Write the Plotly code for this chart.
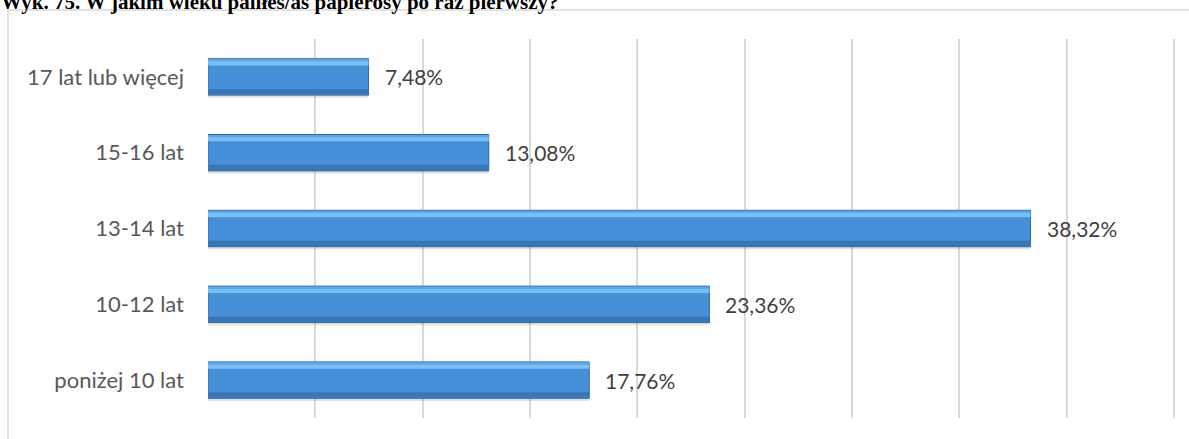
import plotly.graph_objects as go

categories = ["poniżej 10 lat", "10-12 lat", "13-14 lat", "15-16 lat", "17 lat lub więcej"]
values = [17.76, 23.36, 38.32, 13.08, 7.48]
labels = ["17,76%", "23,36%", "38,32%", "13,08%", "7,48%"]
title_text = "Wyk. 75. W jakim wieku paliłeś/aś papierosy po raz pierwszy?"

W, H = 1189, 439
ML, MR, MT, MB = 208, 14, 39, 21
BW = 0.48
LABEL_FONT = "Lato, 'Liberation Sans', Arial, sans-serif"

fig = go.Figure()
# soft shadow
fig.add_trace(go.Bar(y=categories, x=values, orientation="h", width=BW, offset=-BW / 2 - 0.035,
                     marker=dict(color="rgba(60,60,60,0.16)", line=dict(width=0)),
                     hoverinfo="skip", showlegend=False))
# main body
fig.add_trace(go.Bar(y=categories, x=values, orientation="h", width=BW, offset=-BW / 2,
                     marker=dict(color="#4690DA", line=dict(color="#2E679F", width=1)),
                     showlegend=False))
# lower darker band
fig.add_trace(go.Bar(y=categories, x=values, orientation="h", width=0.07, offset=-BW / 2 + 0.01,
                     marker=dict(color="#3876B6", line=dict(width=0)),
                     hoverinfo="skip", showlegend=False))
# upper light highlight
fig.add_trace(go.Bar(y=categories, x=values, orientation="h", width=0.06, offset=BW / 2 - 0.09,
                     marker=dict(color="#78C0F4", line=dict(width=0)),
                     hoverinfo="skip", showlegend=False))
fig.add_trace(go.Bar(y=categories, x=values, orientation="h", width=0.03, offset=BW / 2 - 0.035,
                     marker=dict(color="#5DA6E8", line=dict(width=0)),
                     hoverinfo="skip", showlegend=False))

for c, v, t in zip(categories, values, labels):
    fig.add_annotation(x=v, y=c, text=t, showarrow=False, xanchor="left", xshift=14,
                       font=dict(family=LABEL_FONT, size=21, color="#404040"))

fig.add_annotation(xref="paper", yref="paper", x=0, y=1, xanchor="left", yanchor="bottom",
                   xshift=-ML - 1, yshift=MT - 16, text="<b>" + title_text + "</b>", showarrow=False,
                   font=dict(family="'Liberation Serif', 'Times New Roman', serif", size=21, color="#000000"))

plot_w = W - ML - MR
plot_h = H - MT - MB
fig.add_shape(type="rect", xref="paper", yref="paper",
              x0=(8 - ML) / plot_w, x1=(W + 20 - ML) / plot_w,
              y0=-(30) / plot_h, y1=(H - MB - 10) / plot_h,
              line=dict(color="#D9D9D9", width=1.5), fillcolor="rgba(0,0,0,0)", layer="below")

fig.update_layout(
    width=W, height=H,
    margin=dict(l=ML, r=MR, t=MT, b=MB, autoexpand=False),
    barmode="overlay",
    plot_bgcolor="white", paper_bgcolor="white",
    xaxis=dict(range=[0, 45.05], dtick=5, showgrid=True, gridcolor="#D9D9D9", gridwidth=1.5,
               showticklabels=False, zeroline=False, showline=False, ticks="", fixedrange=True),
    yaxis=dict(categoryorder="array", categoryarray=categories, showgrid=False,
               tickfont=dict(family=LABEL_FONT, size=22, color="#595959"),
               ticks="", ticklabelstandoff=23, showline=False, zeroline=False),
)

fig.write_html("out.html", config={"displayModeBar": False},
               post_script="document.body.style.margin='0';document.body.style.overflow='hidden';")
